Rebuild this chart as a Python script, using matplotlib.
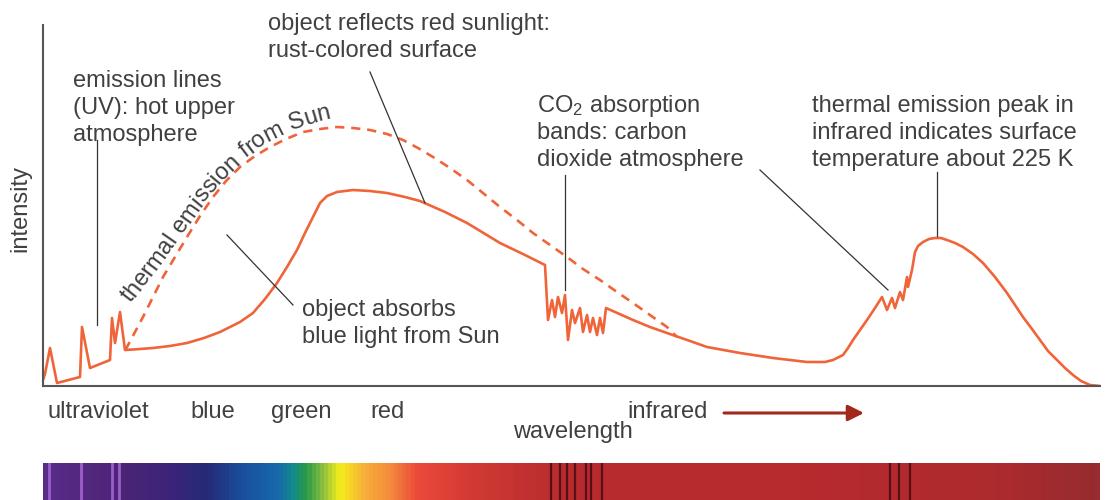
import numpy as np
import matplotlib
matplotlib.use('Agg')
import matplotlib.pyplot as plt
from matplotlib.colors import LinearSegmentedColormap

plt.rcParams['font.family'] = ['Liberation Sans', 'DejaVu Sans']
plt.rcParams['mathtext.fontset'] = 'custom'
plt.rcParams['mathtext.rm'] = 'Liberation Sans'
plt.rcParams['mathtext.it'] = 'Liberation Sans'

# спектр планеты (длина волны и интенсивность в условных единицах)
planet_wl = [43, 45, 50, 57, 80, 82, 90, 110, 112, 115, 120, 125, 140, 153, 170,
             187, 204, 220, 240, 253, 265, 277, 287, 297, 305, 313, 320, 327,
             337, 353, 370, 387, 405, 420, 445, 467, 500, 525, 545, 548,
             552, 555, 558, 562, 565, 568, 572, 575, 580, 583, 587, 590, 593,
             597, 600, 603, 606, 615, 633, 650, 667, 690, 707, 740, 773, 807,
             825, 833, 843, 848, 853, 860, 867, 875, 882, 887, 892, 895, 900,
             903, 907, 908, 912, 915, 918, 923, 929, 935, 941, 947, 955, 963,
             973, 983, 995, 1007, 1015, 1023, 1032, 1040, 1048, 1057, 1065,
             1073, 1081, 1090, 1100]
planet_int = [6, 12, 38, 3, 9, 59, 18, 26, 68, 43, 74, 36, 37, 38, 40,
              43, 48, 54, 64, 73, 87, 103, 119, 136, 153, 169, 183, 190,
              194, 196, 195, 193, 189, 185, 174, 163, 143, 131, 121, 66,
              86, 69, 89, 73, 91, 46, 76, 63, 78, 54, 71, 54, 68,
              51, 68, 53, 78, 74, 66, 59, 53, 45, 39, 33, 28, 24,
              24, 26, 31, 38, 46, 56, 66, 78, 89, 76, 88, 78, 94,
              86, 109, 99, 116, 134, 140, 144, 147, 148, 148, 146, 143, 139,
              132, 123, 109, 93, 81, 69, 57, 46, 35, 26, 18,
              11, 5, 1, 0]

# тепловое излучение Солнца
sun_wl = [125, 127, 143, 153, 163, 175, 187, 200, 213, 226, 240, 255, 270,
          286, 303, 320, 337, 353, 370, 387, 403, 418, 433, 450, 467, 483,
          500, 517, 533, 550, 567, 583, 600, 617, 633, 650, 667, 677]
sun_int = [36, 39, 69, 89, 109, 129, 149, 170, 189, 205, 219, 230, 239,
           247, 254, 257, 259, 258, 256, 252, 246, 238, 229, 218, 206, 193,
           179, 166, 153, 141, 129, 117, 106, 94, 83, 71, 59, 49]

band_labels = ['ultraviolet', 'blue', 'green', 'red', 'infrared']
band_pos = [98, 213, 301, 388, 668]

# линии на полоске спектра
emission_lines = [49, 81, 112, 119]
absorption_lines = [551, 560, 567, 575, 586, 591, 602, 890, 899, 910]
spec_pos = [43, 120, 170, 205, 240, 275, 292, 305, 322, 339, 363, 390, 416,
            470, 560, 800, 1000, 1100]
spec_colors = ['#5a2c88', '#4c2476', '#3b2478', '#252a78', '#1a4e9c', '#1767ad',
               '#138a8a', '#2a9a48', '#8cc040', '#f5ee1a', '#f8b03a', '#f48a3c',
               '#ec4a3a', '#d23a34', '#b82c2e', '#b72b2f', '#ad2a2d', '#962c30']

curve_color = '#f0643a'
text_color = '#404040'
fs = 17
pitch = 27

fig = plt.figure(figsize=(11.06, 5.0), dpi=100)
ax = fig.add_axes([43 / 1106, 114 / 500, 1057 / 1106, 361 / 500])
ax.set_xlim(43, 1100)
ax.set_ylim(0, 361)
ax.set_xticks([])
ax.set_yticks([])
for side in ['top', 'right']:
    ax.spines[side].set_visible(False)
for side in ['left', 'bottom']:
    ax.spines[side].set_color('#555555')
    ax.spines[side].set_linewidth(1.5)

ax.plot(sun_wl, sun_int, color=curve_color, lw=1.9, ls=(0, (3.5, 2.6)))
ax.plot(planet_wl, planet_int, color=curve_color, lw=1.9)


def block(x, y, lines):
    for i, s in enumerate(lines):
        ax.text(x, y - i * pitch, s, fontsize=fs, color=text_color,
                ha='left', va='baseline')


block(268, 356, ['object reflects red sunlight:', 'rust-colored surface'])
block(73, 299, ['emission lines', '(UV): hot upper', 'atmosphere'])
block(302, 70, ['object absorbs', 'blue light from Sun'])
block(537, 274, ['CO$_2$ absorption', 'bands: carbon', 'dioxide atmosphere'])
block(812, 274, ['thermal emission peak in', 'infrared indicates surface',
                 'temperature about 225 K'])

# выноски
leaders = [((97, 97), (246, 61)), ((370, 425), (314, 183)),
           ((227, 293), (151, 81)), ((565, 565), (211, 96)),
           ((760, 888), (216, 96)), ((937, 937), (214, 150))]
for xs, ys in leaders:
    ax.plot(xs, ys, color='#333333', lw=0.9)

# подпись вдоль пунктирной кривой
fig.canvas.draw()
renderer = fig.canvas.get_renderer()
path_x = [125, 150, 175, 200, 225, 246, 267, 293, 319, 345]
path_y = [76, 108, 142, 178, 208, 228, 244, 257, 265, 271]
pts = ax.transData.transform(np.column_stack([path_x, path_y]))
seg = np.hypot(np.diff(pts[:, 0]), np.diff(pts[:, 1]))
cum = np.concatenate([[0], np.cumsum(seg)])
label = 'thermal emission from Sun'
prop = matplotlib.font_manager.FontProperties(family='Liberation Sans', size=fs)
s = 9.0
for ch in label:
    w, h, d = renderer.get_text_width_height_descent(ch, prop, ismath=False)
    if ch == ' ':
        w = fs * 100 / 72 * 0.278
    mid = s + w / 2
    k = min(max(np.searchsorted(cum, mid) - 1, 0), len(seg) - 1)
    t = (mid - cum[k]) / seg[k]
    p = pts[k] + t * (pts[k + 1] - pts[k])
    ang = np.degrees(np.arctan2(pts[k + 1, 1] - pts[k, 1], pts[k + 1, 0] - pts[k, 0]))
    xd, yd = ax.transData.inverted().transform(p)
    ax.text(xd, yd, ch, fontsize=fs, color=text_color, rotation=ang,
            rotation_mode='anchor', ha='center', va='baseline')
    s += w

# подписи оси
ax.text(20, 178, 'intensity', fontsize=fs, color=text_color, rotation=90,
        ha='center', va='center')
for lab, xp in zip(band_labels, band_pos):
    ax.text(xp, -32, lab, fontsize=fs, color=text_color, ha='center', va='baseline')
ax.text(573, -52, 'wavelength', fontsize=fs, color=text_color, ha='center', va='baseline')
ax.annotate('', xy=(864, -27), xytext=(724, -27), annotation_clip=False,
            arrowprops=dict(arrowstyle='-|>', color='#a3281c', lw=2.2,
                            mutation_scale=24, shrinkA=0, shrinkB=0))

# полоска спектра
ax_spec = fig.add_axes([43 / 1106, 0, 1057 / 1106, 37 / 500])
nodes = [(p - spec_pos[0]) / (spec_pos[-1] - spec_pos[0]) for p in spec_pos]
cmap = LinearSegmentedColormap.from_list('spec', list(zip(nodes, spec_colors)))
grad = np.linspace(43, 1100, 1057).reshape(1, -1)
ax_spec.imshow(grad, cmap=cmap, aspect='auto', extent=[43, 1100, 0, 1],
               vmin=43, vmax=1100)
for xl in emission_lines:
    ax_spec.axvline(xl, color='#a868d8', lw=2.0, alpha=0.85)
for xl in absorption_lines:
    ax_spec.axvline(xl, color='#5a0f14', lw=1.6)
ax_spec.set_xlim(43, 1100)
ax_spec.set_ylim(0, 1)
ax_spec.axis('off')

fig.savefig('out.png', dpi=100)
